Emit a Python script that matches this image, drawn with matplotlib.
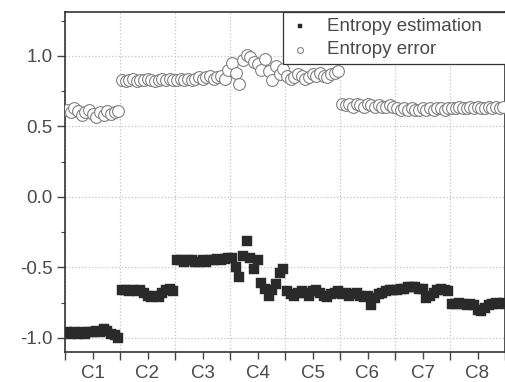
import matplotlib
matplotlib.use("Agg")
import matplotlib.pyplot as plt
import numpy as np
from matplotlib.ticker import MultipleLocator, FixedLocator

plt.rcParams['font.family'] = ['Liberation Sans', 'DejaVu Sans']
plt.rcParams['axes.unicode_minus'] = False

categories = ["C1", "C2", "C3", "C4", "C5", "C6", "C7", "C8"]
per_class = 15

est_C1 = [-0.96, -0.97, -0.96, -0.97, -0.96, -0.97, -0.96, -0.96, -0.95, -0.96, -0.94, -0.95, -0.97, -0.98, -1.00]
est_C2 = [-0.66, -0.66, -0.67, -0.66, -0.67, -0.66, -0.68, -0.70, -0.71, -0.70, -0.71, -0.68, -0.66, -0.65, -0.67]
est_C3 = [-0.45, -0.45, -0.46, -0.45, -0.45, -0.46, -0.46, -0.45, -0.46, -0.45, -0.45, -0.44, -0.45, -0.44, -0.43]
est_C4 = [-0.43, -0.50, -0.57, -0.42, -0.31, -0.43, -0.51, -0.45, -0.61, -0.65, -0.70, -0.66, -0.62, -0.54, -0.51]
est_C5 = [-0.67, -0.69, -0.70, -0.68, -0.67, -0.68, -0.70, -0.67, -0.66, -0.68, -0.70, -0.71, -0.69, -0.68, -0.67]
est_C6 = [-0.69, -0.68, -0.70, -0.69, -0.68, -0.70, -0.71, -0.70, -0.77, -0.72, -0.69, -0.68, -0.67, -0.66, -0.66]
est_C7 = [-0.66, -0.65, -0.65, -0.64, -0.64, -0.64, -0.65, -0.65, -0.72, -0.70, -0.68, -0.66, -0.65, -0.66, -0.67]
est_C8 = [-0.76, -0.76, -0.75, -0.76, -0.77, -0.76, -0.77, -0.80, -0.81, -0.79, -0.77, -0.76, -0.75, -0.76, -0.75]

err_C1 = [0.62, 0.60, 0.63, 0.61, 0.58, 0.60, 0.62, 0.59, 0.57, 0.60, 0.58, 0.61, 0.59, 0.60, 0.61]
err_C2 = [0.83, 0.82, 0.83, 0.84, 0.82, 0.83, 0.83, 0.84, 0.83, 0.82, 0.83, 0.84, 0.83, 0.84, 0.83]
err_C3 = [0.83, 0.84, 0.83, 0.84, 0.83, 0.84, 0.85, 0.84, 0.85, 0.86, 0.84, 0.85, 0.86, 0.84, 0.90]
err_C4 = [0.95, 0.88, 0.80, 0.97, 1.01, 0.99, 0.96, 0.94, 0.90, 0.98, 0.89, 0.83, 0.93, 0.87, 0.91]
err_C5 = [0.86, 0.84, 0.85, 0.87, 0.86, 0.84, 0.85, 0.87, 0.86, 0.88, 0.86, 0.85, 0.87, 0.88, 0.89]
err_C6 = [0.66, 0.65, 0.66, 0.64, 0.66, 0.65, 0.64, 0.66, 0.65, 0.64, 0.65, 0.64, 0.64, 0.65, 0.64]
err_C7 = [0.63, 0.62, 0.63, 0.62, 0.63, 0.62, 0.62, 0.63, 0.62, 0.63, 0.62, 0.63, 0.63, 0.62, 0.63]
err_C8 = [0.63, 0.63, 0.64, 0.63, 0.63, 0.64, 0.63, 0.64, 0.63, 0.63, 0.64, 0.63, 0.64, 0.63, 0.64]

estimation = est_C1 + est_C2 + est_C3 + est_C4 + est_C5 + est_C6 + est_C7 + est_C8
error = err_C1 + err_C2 + err_C3 + err_C4 + err_C5 + err_C6 + err_C7 + err_C8

n = len(estimation)
x = np.arange(n) + 0.5

fig = plt.figure(figsize=(5.05, 3.82), dpi=100)
ax = fig.add_axes([65/505, 1-352/382, 1-65/505, (352-12)/382])

txt = '#4a4a4a'
ax.scatter(x, estimation, marker='s', s=48, c='#2a2a2a', edgecolors='#2a2a2a',
           linewidths=0.3, label='Entropy estimation', zorder=3)
ax.scatter(x, error, marker='o', s=72, facecolors='white', edgecolors='#808080',
           linewidths=0.8, label='Entropy error', zorder=3)

ax.set_xlim(0, n)
ax.set_ylim(-1.10, 1.312)

ax.xaxis.set_major_locator(FixedLocator([i * per_class for i in range(len(categories) + 1)]))
ax.set_xticklabels([])
ax.set_xticks([(i + 0.5) * per_class for i in range(len(categories))], minor=True)
ax.set_xticklabels(categories, minor=True)

ax.yaxis.set_major_locator(MultipleLocator(0.5))
ax.yaxis.set_minor_locator(MultipleLocator(0.25))
ax.yaxis.set_major_formatter(matplotlib.ticker.FormatStrFormatter('%.1f'))

ax.tick_params(axis='both', which='both', direction='out', colors='#444444',
               labelcolor=txt, labelsize=13.5)
ax.tick_params(axis='x', which='major', length=6, width=1)
ax.tick_params(axis='x', which='minor', length=5, width=1, pad=4)
ax.tick_params(axis='y', which='major', length=6, width=1, pad=3)
ax.tick_params(axis='y', which='minor', length=3, width=0.8)

ax.grid(True, which='major', axis='both', linestyle=':', color='#c4c4c4', linewidth=0.9, zorder=0)
ax.set_axisbelow(True)

for sp in ax.spines.values():
    sp.set_color('#333333')
    sp.set_linewidth(1.2)

leg = ax.legend(loc='upper left', bbox_to_anchor=(0.4955, 0.853, 0.52, 0.147), mode='expand',
                borderaxespad=0, fancybox=False, fontsize=13.5,
                markerscale=0.5, handletextpad=0.83, borderpad=0.3, labelspacing=0.35,
                framealpha=1, edgecolor='#333333', handlelength=1.22)
leg.get_frame().set_linewidth(0.9)
for t in leg.get_texts():
    t.set_color(txt)

fig.savefig('out.png', dpi=100)
